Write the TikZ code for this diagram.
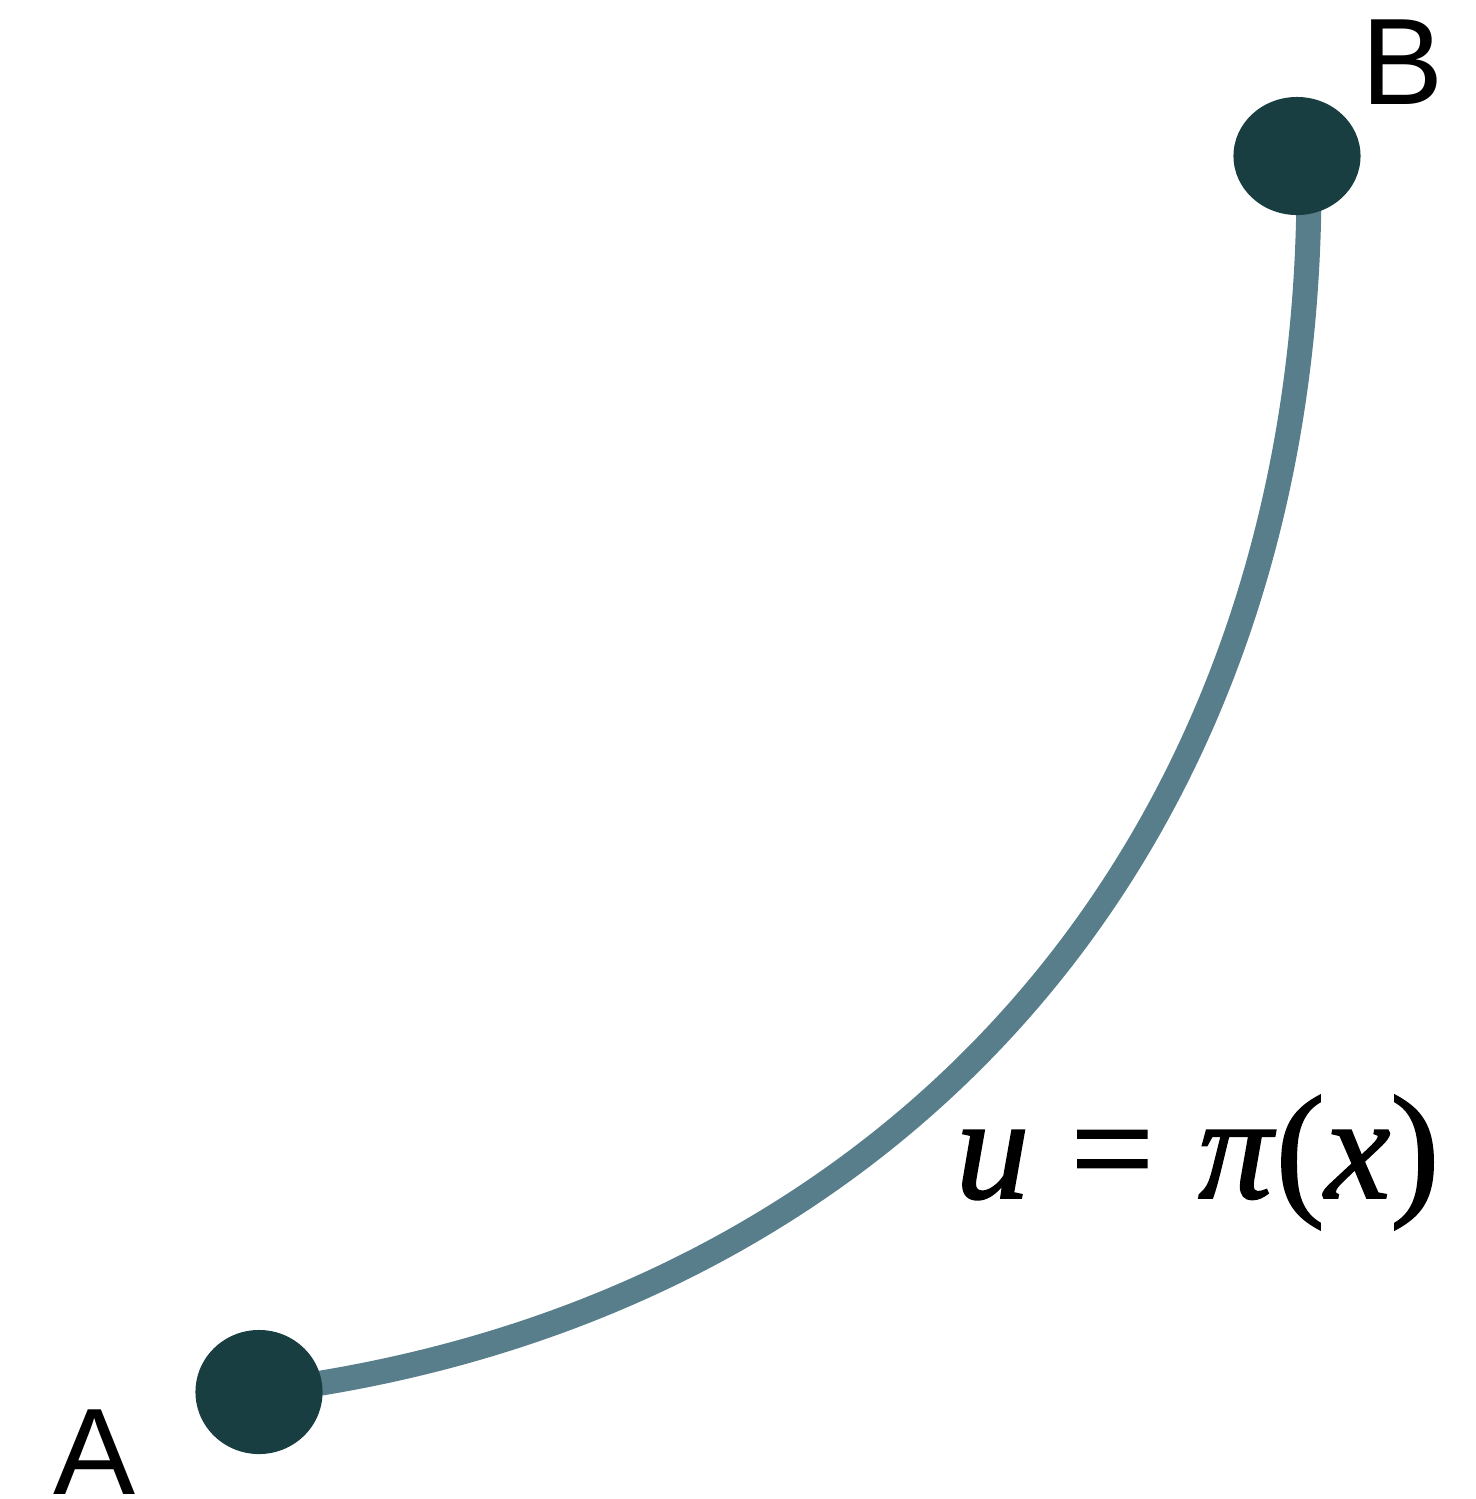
\documentclass[tikz,border=0pt]{standalone}
\usepackage{fontspec}
\setmainfont{Liberation Serif}
\newfontfamily\labelfont{Liberation Sans}
\newfontfamily\eqfont[FakeBold=1.3]{Liberation Serif}
\usetikzlibrary{shapes.geometric,backgrounds}
\definecolor{curvecol}{HTML}{577E8A}
\definecolor{dotcol}{HTML}{183E41}
\tikzset{
  dotnode/.style={ellipse,fill=dotcol,draw=none,inner sep=0pt,minimum width=1.27cm},
  ptlabel/.style={inner sep=0pt,anchor=base west,font=\labelfont\fontsize{35}{40}\selectfont},
  curveline/.style={draw=curvecol,line width=0.25cm},
}
\begin{document}
\begin{tikzpicture}[x=0.01cm,y=-0.01cm]
\useasboundingbox (0,0) rectangle (1476,1499);
\node[dotnode,minimum height=1.24cm] (A) at (259,1392) {};
\node[dotnode,minimum height=1.18cm] (B) at (1297,156) {};
\coordinate (Bfoot) at (1309,180);
\begin{scope}[on background layer]
\draw[curveline] (A.center) .. controls (890,1315) and (1310,850) .. (Bfoot);
\end{scope}
\node[ptlabel] (Alab) at (53,1494) {A};
\node[ptlabel] (Blab) at (1361,104) {B};
\node[inner sep=0pt,anchor=base west,font=\eqfont\fontsize{42}{48}\selectfont] (eq) at (955,1198)
  {\textit{u}\hspace{0.278em}=\hspace{0.3em}\textit{π}(\textit{x})};
\end{tikzpicture}
\end{document}
